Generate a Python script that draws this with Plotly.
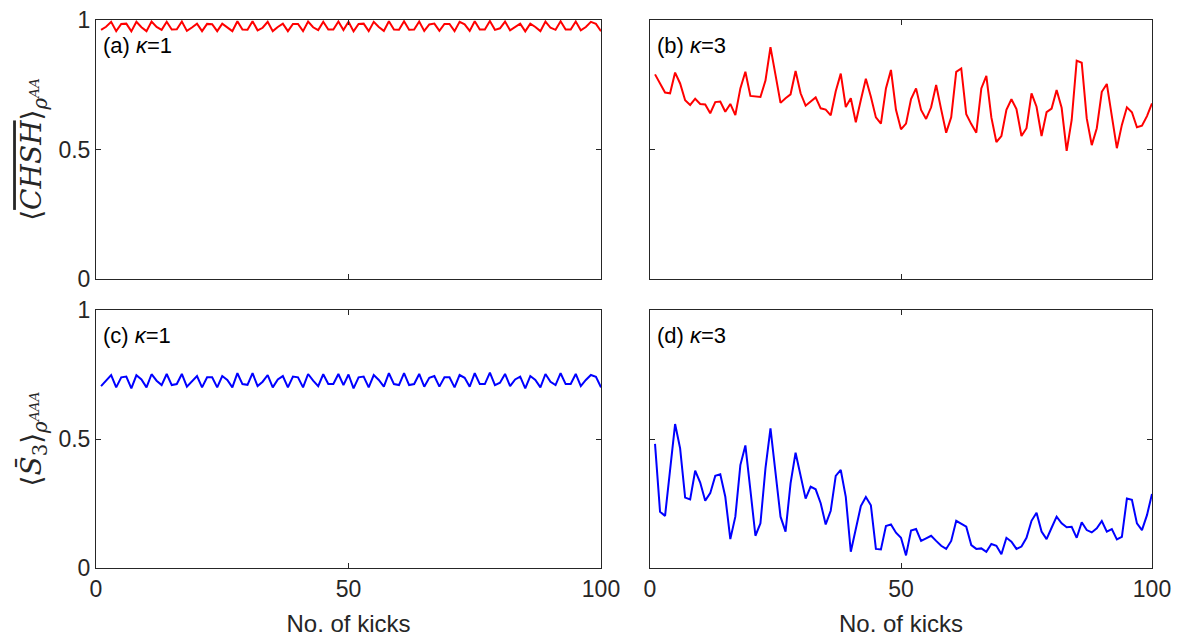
import plotly.graph_objects as go

kicks = list(range(1, 101))

chsh_k1 = [0.962, 0.974, 0.993, 0.957, 0.985, 0.986, 0.956, 0.993, 0.972, 0.957,
           0.994, 0.973, 0.962, 0.993, 0.963, 0.964, 0.994, 0.958, 0.971, 0.986,
           0.957, 0.985, 0.984, 0.957, 0.986, 0.973, 0.957, 0.995, 0.963, 0.962,
           0.995, 0.960, 0.970, 0.993, 0.957, 0.973, 0.986, 0.957, 0.985, 0.985,
           0.957, 0.994, 0.972, 0.961, 0.993, 0.963, 0.963, 0.994, 0.961, 0.993,
           0.956, 0.985, 0.986, 0.957, 0.993, 0.973, 0.958, 0.995, 0.963, 0.962,
           0.995, 0.962, 0.963, 0.994, 0.958, 0.983, 0.986, 0.958, 0.985, 0.985,
           0.957, 0.993, 0.983, 0.958, 0.995, 0.963, 0.963, 0.996, 0.962, 0.968,
           0.994, 0.960, 0.973, 0.986, 0.956, 0.986, 0.973, 0.957, 0.994, 0.970,
           0.962, 0.995, 0.963, 0.963, 0.994, 0.960, 0.973, 0.993, 0.985, 0.957]

chsh_k3 = [0.79, 0.755, 0.72, 0.717, 0.797, 0.755, 0.69, 0.672, 0.696, 0.676,
           0.674, 0.64, 0.683, 0.685, 0.646, 0.676, 0.633, 0.736, 0.80, 0.707,
           0.705, 0.703, 0.766, 0.895, 0.788, 0.68, 0.698, 0.713, 0.803, 0.717,
           0.669, 0.686, 0.701, 0.659, 0.654, 0.632, 0.725, 0.793, 0.664, 0.698,
           0.605, 0.691, 0.773, 0.704, 0.624, 0.60, 0.736, 0.807, 0.653, 0.578,
           0.60, 0.695, 0.736, 0.653, 0.618, 0.663, 0.749, 0.655, 0.565, 0.624,
           0.80, 0.813, 0.636, 0.598, 0.565, 0.736, 0.784, 0.624, 0.529, 0.552,
           0.653, 0.694, 0.656, 0.552, 0.582, 0.717, 0.665, 0.552, 0.644, 0.658,
           0.73, 0.661, 0.495, 0.614, 0.843, 0.835, 0.62, 0.517, 0.582, 0.723,
           0.753, 0.629, 0.505, 0.595, 0.663, 0.644, 0.586, 0.592, 0.629, 0.678]

s3_k1 = [0.705, 0.726, 0.748, 0.700, 0.739, 0.742, 0.696, 0.747, 0.731, 0.700,
         0.751, 0.726, 0.709, 0.752, 0.709, 0.713, 0.752, 0.703, 0.725, 0.744,
         0.700, 0.739, 0.739, 0.700, 0.744, 0.729, 0.700, 0.755, 0.713, 0.710,
         0.755, 0.705, 0.722, 0.748, 0.700, 0.731, 0.744, 0.700, 0.742, 0.739,
         0.700, 0.752, 0.726, 0.705, 0.751, 0.713, 0.713, 0.752, 0.709, 0.750,
         0.696, 0.739, 0.742, 0.700, 0.748, 0.729, 0.703, 0.755, 0.713, 0.709,
         0.755, 0.709, 0.713, 0.752, 0.703, 0.737, 0.744, 0.703, 0.739, 0.739,
         0.700, 0.748, 0.737, 0.703, 0.755, 0.713, 0.713, 0.757, 0.709, 0.718,
         0.752, 0.705, 0.731, 0.742, 0.696, 0.744, 0.729, 0.700, 0.752, 0.722,
         0.709, 0.755, 0.713, 0.713, 0.752, 0.705, 0.729, 0.748, 0.741, 0.700]

s3_k3 = [0.481, 0.218, 0.202, 0.38, 0.558, 0.464, 0.273, 0.266, 0.377, 0.331,
         0.261, 0.29, 0.357, 0.363, 0.276, 0.112, 0.199, 0.399, 0.475, 0.302,
         0.125, 0.173, 0.386, 0.541, 0.38, 0.199, 0.141, 0.328, 0.447, 0.357,
         0.269, 0.315, 0.305, 0.251, 0.169, 0.222, 0.357, 0.38, 0.276, 0.063,
         0.154, 0.24, 0.275, 0.243, 0.074, 0.072, 0.163, 0.169, 0.137, 0.117,
         0.049, 0.145, 0.151, 0.105, 0.115, 0.125, 0.105, 0.086, 0.074, 0.105,
         0.183, 0.173, 0.16, 0.089, 0.074, 0.076, 0.063, 0.093, 0.086, 0.053,
         0.117, 0.102, 0.074, 0.083, 0.117, 0.183, 0.214, 0.141, 0.112, 0.156,
         0.199, 0.173, 0.158, 0.16, 0.117, 0.177, 0.147, 0.138, 0.154, 0.182,
         0.141, 0.151, 0.111, 0.121, 0.269, 0.264, 0.173, 0.147, 0.205, 0.287]

x_ticks = [0, 50, 100]
y_ticks = [0, 0.5, 1]
panel_labels = ["(a) <i>κ</i>=1", "(b) <i>κ</i>=3", "(c) <i>κ</i>=1", "(d) <i>κ</i>=3"]

RED = "#FF0000"
BLUE = "#0000FF"
AX = "#262626"
FONT = "Liberation Sans, Arial, sans-serif"

fig = go.Figure()
series = [(chsh_k1, RED, "x", "y"), (chsh_k3, RED, "x2", "y2"),
          (s3_k1, BLUE, "x3", "y3"), (s3_k3, BLUE, "x4", "y4")]
for vals, col, xa, ya in series:
    fig.add_trace(go.Scatter(x=kicks, y=vals, mode="lines", xaxis=xa, yaxis=ya,
                             line=dict(color=col, width=2), showlegend=False,
                             hoverinfo="skip"))

xdom_l = [96 / 1184, 601 / 1184]
xdom_r = [650 / 1184, 1152 / 1184]
ydom_t = [1 - 279 / 641, 1 - 20 / 641]
ydom_b = [1 - 568 / 641, 1 - 310 / 641]

def xax(dom, anchor, labels, title=None):
    d = dict(domain=dom, anchor=anchor, range=[0, 100], tickvals=x_ticks,
             showticklabels=labels, ticks="inside", ticklen=5, tickcolor=AX,
             showline=True, linecolor=AX, linewidth=1, mirror="ticks",
             showgrid=False, zeroline=False, automargin=False,
             tickfont=dict(family=FONT, size=23, color=AX))
    if title:
        d["title"] = dict(text=title, font=dict(family=FONT, size=24, color=AX), standoff=14)
    return d

def yax(dom, anchor, labels, title=None):
    d = dict(domain=dom, anchor=anchor, range=[0, 1], tickvals=y_ticks,
             showticklabels=labels, ticks="inside", ticklen=5, tickcolor=AX,
             showline=True, linecolor=AX, linewidth=1, mirror="ticks",
             showgrid=False, zeroline=False, automargin=False,
             tickfont=dict(family=FONT, size=23, color=AX))
    if title:
        d["title"] = dict(text=title, font=dict(family="DejaVu Serif, serif", size=28, color=AX), standoff=8)
    return d

ytitle_top = ("⟨<i><span style='text-decoration:overline'>CHSH</span></i>⟩"
              "<sub><i>ρ<sup>AA</sup></i></sub>")
ytitle_bot = "⟨<i>S̄</i><sub>3</sub>⟩<sub><i>ρ<sup>AAA</sup></i></sub>"

fig.update_layout(
    width=1184, height=641, autosize=False,
    margin=dict(l=0, r=0, t=0, b=0, pad=0),
    paper_bgcolor="white", plot_bgcolor="white",
    xaxis=xax(xdom_l, "y", False),
    yaxis=yax(ydom_t, "x", True, ytitle_top),
    xaxis2=xax(xdom_r, "y2", False),
    yaxis2=yax(ydom_t, "x2", False),
    xaxis3=xax(xdom_l, "y3", True, "No. of kicks"),
    yaxis3=yax(ydom_b, "x3", True, ytitle_bot),
    xaxis4=xax(xdom_r, "y4", True, "No. of kicks"),
    yaxis4=yax(ydom_b, "x4", False),
)

refs = [("x", "y"), ("x2", "y2"), ("x3", "y3"), ("x4", "y4")]
for (xr, yr), lab in zip(refs, panel_labels):
    fig.add_annotation(text=lab, xref=xr + " domain", yref=yr + " domain",
                       x=0.01, y=0.9, xanchor="left", yanchor="middle",
                       showarrow=False, font=dict(family=FONT, size=22, color="black"))

fig.write_html("out.html")
